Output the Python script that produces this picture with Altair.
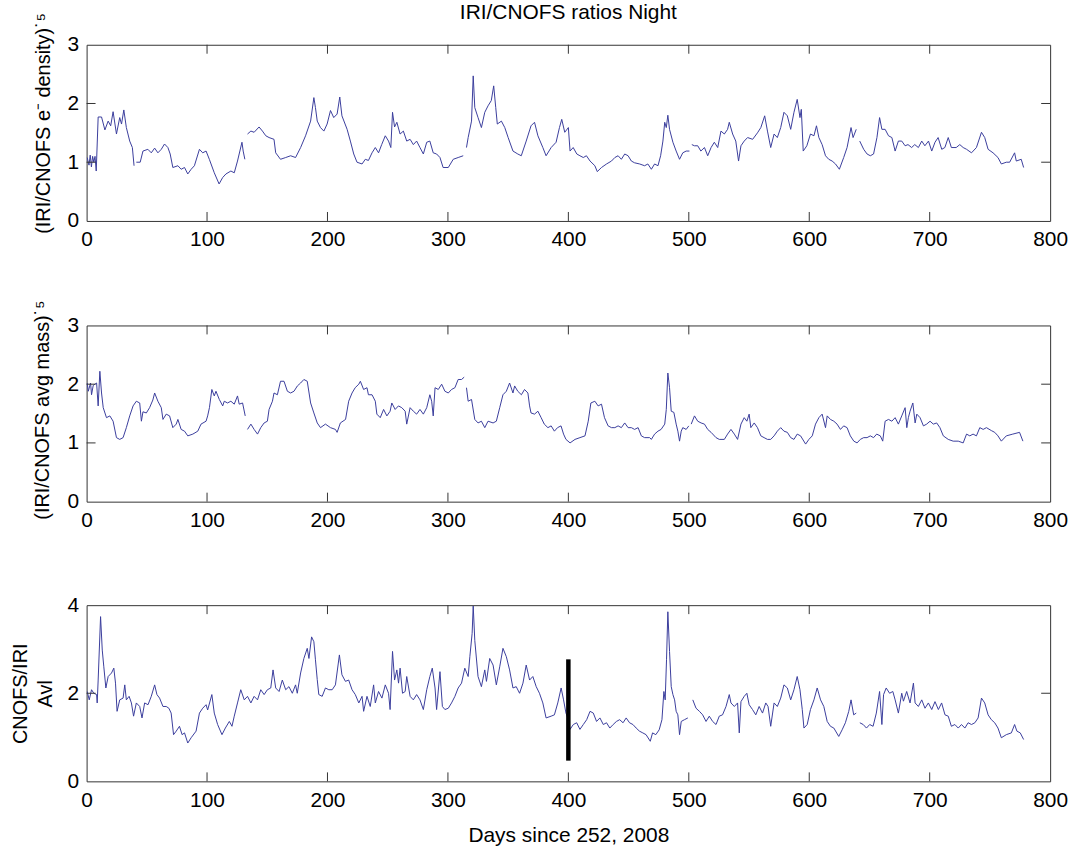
import altair as alt
import pandas as pd

FONT = "Liberation Sans"
LINE = "#3a3d9c"
W = 968
H = 177
XTICKS = [0, 100, 200, 300, 400, 500, 600, 700, 800]

# ---------------- data (None marks a gap in the record) ----------------
days1 = [0.5, 2, 3, 4, 5, 6, 7, 8, 9.6, 12.4, 15.2, 17.9, 20, 22, 24.8, 27.5, 29, 30.9, 33, 35.8, 38, 39.4, None,
         41.3, 44.5, 46.8, 50.9, 53.7, 56.5, 59.2, 62, 64.7, 67.5, 69.4, 71.6, 75.8, 78.5, 81.3, 84, 86.8, 89.5, 93.7,
         96.4, 99.2, 101.9, 106, 110, 113, 115.7, 119.8, 122.6, 125.3, 129, 130, 131.4, None,
         133.6, 136.4, 139.1, 143.2, 146, 148.8, 151.5, 155.6, 157, 161, 165.3, 169.4, 173.5, 177.7, 181.8, 186, 188.7,
         190, 191.5, 194.2, 197, 199.7, 202.5, 205.2, 208, 210.2, 212, 216.3, 219, 221.8, 224.5, 228.7, 231.4, 234, 237,
         239.7, 242.4, 245, 248, 250.7, 252.6, 254, 255.7, 257.6, 260.3, 263, 265.8, 268.6, 271.3, 274, 276.8, 279.6,
         282.4, 285, 287.8, 290.6, 293.4, 296, 300.3, 304.4, 308.5, 312.7, None,
         315.4, 316.8, 319.6, 321, 322.3, 325, 327.8, 330.6, 333.3, 336, 338, 339.7, 341, 344.4, 347.2, 350, 354, 358,
         360.9, 365, 369, 371.9, 374.7, 378.8, 381.5, 385.7, 389.8, 392.6, 394.5, 397, 400, 401.4, 404, 407, 409.6,
         412.4, 415, 418, 422, 424, 427.5, 431.7, 435.8, 438.6, 441.3, 444, 446.8, 449.6, 452.3, 455, 459.2, 463.3, 466,
         468.9, 471.6, 474.4, 476.6, 478.5, 480, 481.3, 482.6, 484, 486.8, 489.5, 492.3, 495, 497.8, 500.5, None,
         502.5, 504.7, 507.4, 510, 513, 515.7, 518.5, 521.2, 524, 526.7, 529.5, 532.2, 533.6, 536.4, 539, 541.3, 543.3,
         546, 548.8, 553, 557, 559.8, 563, 565.3, 568, 570.8, 573.5, 576.3, 579, 581.8, 584.6, 587.3, 590, 592.3, 593.4,
         595, 598, 601, 603.9, 606, 608, 610.7, 613.5, 616.2, 619, 621.8, 625, 628.6, 631.4, 634.7, 636.4, 639, None,
         641.9, 645.2, 648, 650.7, 653.4, 656.2, 658.4, 660.3, 663, 665.8, 668.6, 671.3, 674, 676.8, 679.6, 682, 685,
         687.6, 690.6, 693.4, 696, 699, 701.7, 704.4, 707, 710, 712.6, 715.4, 718, 722, 725, 727.8, 730.6, 734.7, 738.8,
         743, 745.7, 748.5, 752.6, 756.7, 759.5, 763.6, 766.4, 770.5, 771.9, 776, 778]
vals1 = [1.08, 0.95, 1.12, 0.92, 1.1, 1.0, 1.1, 0.85, 1.77, 1.77, 1.55, 1.70, 1.62, 1.86, 1.48, 1.76, 1.65, 1.89, 1.59,
         1.36, 1.25, 0.94, None,
         1.0, 1.0, 1.19, 1.22, 1.16, 1.24, 1.16, 1.22, 1.31, 1.25, 1.14, 0.91, 0.94, 0.88, 0.91, 0.80, 0.88, 0.94, 1.22,
         1.16, 1.19, 1.05, 0.82, 0.63, 0.74, 0.80, 0.85, 0.82, 1.02, 1.34, 1.19, 1.05, None,
         1.48, 1.53, 1.51, 1.60, 1.53, 1.45, 1.42, 1.39, 1.16, 1.05, 1.08, 1.11, 1.08, 1.25, 1.45, 1.70, 2.10,
         1.93, 1.70, 1.59, 1.53, 1.65, 1.88, 1.76, 1.82, 2.11, 1.79, 1.56, 1.36, 1.14, 1.0, 0.97, 1.05, 1.03, 1.16,
         1.25, 1.16, 1.30, 1.45, 1.36, 1.25, 1.85, 1.60, 1.68, 1.48, 1.53, 1.36, 1.39, 1.30, 1.36, 1.25, 1.14,
         1.34, 1.36, 1.16, 1.14, 1.08, 0.91, 0.91, 1.05, 1.08, 1.11, None,
         1.25, 1.42, 1.70, 2.47, 1.93, 1.76, 1.59, 1.85, 1.96, 2.05, 2.30, 1.93, 1.65, 1.70, 1.59, 1.42, 1.19, 1.14,
         1.11, 1.36, 1.62, 1.68, 1.45, 1.25, 1.11, 1.25, 1.34, 1.59, 1.73, 1.51, 1.59, 1.19, 1.25, 1.14, 1.11,
         1.08, 1.11, 1.02, 0.94, 0.84, 0.91, 0.97, 1.02, 1.08, 1.11, 1.05, 1.14, 1.11, 1.02, 0.99, 0.97, 0.94, 0.97,
         0.88, 0.97, 0.94, 1.11, 1.36, 1.68, 1.59, 1.80, 1.56, 1.34, 1.19, 1.05, 1.16, 1.19, 1.19, None,
         1.30, 1.28, 1.28, 1.19, 1.25, 1.11, 1.25, 1.34, 1.25, 1.53, 1.48, 1.56, 1.68, 1.48, 1.36, 1.02, 1.28,
         1.36, 1.42, 1.39, 1.50, 1.59, 1.79, 1.53, 1.25, 1.48, 1.42, 1.59, 1.85, 1.79, 1.56, 1.85, 2.07, 1.76, 1.90,
         1.19, 1.28, 1.48, 1.45, 1.62, 1.42, 1.30, 1.11, 1.05, 1.02, 0.97, 0.88, 1.08, 1.25, 1.59, 1.42, 1.56, None,
         1.36, 1.22, 1.14, 1.11, 1.14, 1.42, 1.76, 1.56, 1.56, 1.45, 1.42, 1.19, 1.36, 1.36, 1.28, 1.30, 1.25,
         1.30, 1.25, 1.36, 1.28, 1.36, 1.19, 1.34, 1.42, 1.22, 1.25, 1.42, 1.25, 1.25, 1.30, 1.25, 1.22, 1.16, 1.25,
         1.51, 1.42, 1.22, 1.16, 1.08, 0.97, 1.0, 1.0, 1.16, 1.02, 1.05, 0.91]

days2 = [0.5, 1.4, 3.3, 4.1, 5.5, 8.3, 9.6, 11, 12.4, 13.8, 16.5, 19.3, 22, 24.8, 27.5, 30.3, 33, 35.8, 38.6, 41.3,
         44.1, 45.5, 46.8, 49.6, 52.3, 55, 56.5, 59.2, 62, 63.4, 66.1, 68.9, 71.6, 74.4, 75.8, 78.5, 81.3, 84, 88.2,
         92.3, 95, 99.2, 100.5, 102, 104, 106, 107.4, 110.2, 113, 114.3, 117, 119.8, 122.6, 125.3, 126.7, 129.5, 131.7,
         None,
         133.6, 136.4, 139.1, 141.9, 144.6, 147.4, 150.1, 151.5, 154.3, 155.6, 158.4, 161, 163.9, 166.7, 169.4, 172.2,
         175, 177.7, 180.4, 183.2, 186, 188.7, 191.5, 194.2, 198.3, 202.5, 206.6, 208, 210.7, 215, 217.6, 220.4, 223,
         226, 227.3, 230, 232.8, 234, 237, 239.7, 241, 243.8, 246.6, 249.3, 252, 253.4, 256.2, 258.9, 261.7, 264.5,
         265.8, 268.6, 271.3, 274, 276.8, 279.6, 282.4, 285, 286.5, 287.8, 289.3, 292, 294.8, 297.5, 300.3, 303, 305.8,
         308.5, 311.3, 313.5, None,
         315.4, 316.8, 319.6, 322.3, 325, 327.8, 330.6, 333.3, 337.5, 340.2, 343, 345.7, 348.5, 351.2, 354, 355.4, 358,
         361, 363.6, 366.4, 367.8, 369, 371.9, 374.7, 377.4, 380, 383, 385.7, 388.4, 391, 393.9, 396, 398, 401.4, 405.5,
         409.6, 413.8, 416.5, 418.7, 422, 424.7, 427.5, 430, 433, 435.8, 438.6, 441.3, 444, 446.8, 449.6, 452.3, 455,
         457.9, 460.6, 463.3, 467.5, 468.9, 471.6, 474.4, 477, 480, 481.3, 482.6, 484, 485.4, 487.6, 489.5, 490.9,
         492.3, 493.7, 495, 497.8, 500, None,
         502, 504.7, 507.4, 510.2, 513, 515.7, 518.5, 522.6, 525.3, 529.5, 532.2, 535, 537.8, 540.5, 543.3, 546, 548.2,
         550.1, 551.5, 554.3, 557, 559.8, 562.5, 565.3, 568, 570.8, 573.5, 576.3, 579, 581.8, 584.6, 587.3, 590, 592.8,
         597, 599.7, 602.5, 605.2, 608, 610.7, 613.5, 614.9, 617.6, 620.4, 623.1, 625.9, 628.6, 631.4, 634.1, 637,
         639.7, 642.4, 645.2, 648, 650.7, 653.4, 656, 659, 661, 663, 665.8, 668.6, 671.3, 674, 676.8, 679.6, 681, 682.3,
         683.7, 686, 687.9, 689.3, 692, 694.8, 697.5, 700.3, 703, 705.8, 708.5, 711.3, 715.4, 719.5, 723.7, 727.8,
         730.6, 733.3, 736, 738.8, 741.6, 744.4, 747.1, 751.2, 754, 756.7, 759.5, 763.6, 769, 774.6, 777.4]
vals2 = [2.02, 1.88, 2.02, 1.82, 1.98, 2.02, 1.63, 2.22, 1.85, 1.60, 1.43, 1.46, 1.37, 1.09, 1.06, 1.09, 1.26, 1.46,
         1.63, 1.71, 1.68, 1.37, 1.53, 1.51, 1.60, 1.73, 1.85, 1.71, 1.60, 1.40, 1.49, 1.46, 1.26, 1.32, 1.40, 1.23,
         1.20, 1.12, 1.15, 1.20, 1.32, 1.37, 1.46, 1.60, 1.91, 1.80, 1.88, 1.74, 1.63, 1.71, 1.68, 1.71, 1.66, 1.80,
         1.66, 1.68, 1.46, None,
         1.23, 1.32, 1.23, 1.15, 1.26, 1.34, 1.37, 1.57, 1.71, 1.85, 1.82, 2.05, 2.05, 1.88, 1.85, 1.88, 1.97, 2.02,
         2.08, 2.05, 1.68, 1.51, 1.34, 1.26, 1.32, 1.26, 1.23, 1.18, 1.34, 1.40, 1.71, 1.85, 1.94, 2.0, 2.05, 1.91,
         1.94, 1.82, 1.82, 1.71, 1.49, 1.43, 1.57, 1.46, 1.54, 1.68, 1.57, 1.63, 1.60, 1.54, 1.32, 1.60, 1.54, 1.49,
         1.57, 1.49, 1.60, 1.82, 1.71, 1.46, 1.94, 1.91, 2.0, 1.88, 1.85, 1.91, 1.94, 2.08, 2.08, 2.12, None,
         1.94, 1.71, 1.74, 1.40, 1.34, 1.37, 1.26, 1.37, 1.34, 1.37, 1.60, 1.82, 1.88, 2.02, 1.85, 1.97, 1.88, 1.82,
         1.91, 1.85, 1.63, 1.51, 1.49, 1.54, 1.43, 1.32, 1.26, 1.29, 1.20, 1.26, 1.29, 1.15, 1.06, 1.0, 1.06, 1.09,
         1.12, 1.37, 1.68, 1.71, 1.63, 1.66, 1.43, 1.29, 1.26, 1.26, 1.29, 1.26, 1.34, 1.26, 1.26, 1.23, 1.26, 1.12,
         1.09, 1.09, 1.06, 1.15, 1.20, 1.23, 1.32, 1.57, 2.19, 1.94, 1.54, 1.52, 1.32, 1.20, 1.03, 1.20, 1.26, 1.23,
         1.29, None,
         1.32, 1.46, 1.37, 1.34, 1.32, 1.23, 1.18, 1.09, 1.06, 1.06, 1.15, 1.23, 1.15, 1.06, 1.32, 1.43, 1.37, 1.49,
         1.26, 1.34, 1.26, 1.12, 1.09, 1.06, 1.06, 1.12, 1.20, 1.26, 1.20, 1.18, 1.09, 1.06, 1.15, 1.12, 0.98, 1.06,
         1.12, 1.32, 1.43, 1.49, 1.26, 1.46, 1.40, 1.37, 1.32, 1.23, 1.29, 1.26, 1.12, 1.03, 1.0, 1.06, 1.09, 1.09,
         1.12, 1.09, 1.15, 1.12, 1.03, 1.37, 1.40, 1.37, 1.43, 1.32, 1.46, 1.60, 1.26, 1.43, 1.54, 1.68, 1.34, 1.49,
         1.43, 1.29, 1.32, 1.37, 1.32, 1.34, 1.26, 1.12, 1.06, 1.03, 1.03, 1.0, 1.15, 1.12, 1.15, 1.12, 1.26, 1.23,
         1.26, 1.21, 1.18, 1.12, 1.03, 1.12, 1.15, 1.18, 1.03]

days3 = [0.5, 2.2, 4.1, 6, 8.3, 8.8, 9.6, 11.6, 13, 14.3, 16, 17.9, 20.7, 22.6, 24, 25.3, 27.5, 30.3, 31.7, 33, 35.3,
         37.2, 39, 41.3, 44.1, 46, 48.2, 51, 53.7, 56.5, 58.4, 60.6, 63.4, 66.1, 68.3, 70.2, 72.2, 74.4, 77.1, 79.3,
         81.3, 84, 86.8, 90.9, 93.7, 96.4, 99.2, 100.5, 104, 106, 108.8, 112.4, 115.2, 118.5, 120.7, 122.6, 125.3, 128,
         130.9, 133.6, 136.4, 139.1, 141.9, 144.6, 147.4, 150.1, 152.9, 154.8, 157, 159.8, 162.5, 165.3, 168, 170.8,
         173.5, 174.9, 177.7, 180.4, 183.2, 184.6, 186.8, 188.7, 190, 191.5, 192.8, 195.6, 198.3, 201.1, 203.9, 206.6,
         209.9, 212, 214.9, 217.6, 220.4, 223.1, 226, 228.7, 230, 232.8, 235.5, 238.3, 239.7, 242.4, 245.2, 248, 250.7,
         252, 254, 255.7, 257.6, 259, 260.3, 262.3, 264.5, 265.8, 268.6, 271.3, 274, 276.8, 279.6, 282.4, 285, 287,
         289.3, 290.6, 293.4, 295.4, 297.5, 300.3, 303, 305.8, 308.5, 311.3, 314, 316.8, 318.2, 320.1, 321, 322.3, 325,
         327.8, 330.6, 332, 334.7, 337.5, 340.2, 343, 345.7, 348.5, 351.2, 354, 356.7, 359.5, 362.3, 365, 367.8, 370.5,
         373.3, 376, 378.8, 381.5, 385.7, 388.4, 391.2, 394, 396, 398, 400, 401.4, 404.1, 406.9, 409.6, 412.4, 415.2,
         418, 420.7, 423.4, 426.2, 429, 431.7, 434.4, 437.2, 439.9, 442.6, 445.4, 448, 450.8, 453.6, 456.3, 459, 461.8,
         464.5, 468, 469.9, 472.6, 475.4, 477.7, 479.3, 480.4, 481.5, 482.6, 484, 485.4, 486.8, 488.2, 489.5, 490.9,
         492.3, 493.7, 496.4, 499.2, None,
         503.3, 506, 508.8, 511.5, 514.3, 517, 519.8, 522.6, 525.3, 528, 530.9, 533.6, 535, 537.8, 540.5, 541.9, 543.3,
         546, 548.2, 550.1, 552.9, 555.6, 558.4, 561.2, 563.9, 565.8, 568, 570.8, 573.5, 576.3, 579, 581.8, 584.6,
         587.3, 590, 592.3, 594.2, 595.6, 598.3, 601, 603.9, 606.6, 609.4, 612.1, 614.9, 617.6, 620.4, 624.5, 627.3,
         630, 632.8, 634.7, 636.9, 639, None,
         642, 644.8, 647.5, 650.2, 653, 655.7, 658.4, 660.3, 661.7, 663.9, 666.7, 669.4, 671.3, 674, 676.8, 678.2,
         680.9, 683.7, 686.5, 687.9, 690.6, 693.4, 696.1, 698.9, 701.7, 704.4, 707.2, 709.9, 712.7, 715.4, 718, 720.9,
         723.7, 726.4, 729.2, 731.9, 734.7, 737.5, 740.2, 743, 745.7, 748.5, 751.2, 754, 756.7, 759.5, 763.6, 767.8,
         770.5, 772.4, 775.2, 778]
vals3 = [2.04, 1.85, 2.08, 2.0, 1.97, 1.78, 2.30, 3.74, 2.98, 2.60, 2.12, 2.38, 2.46, 2.57, 2.23, 1.59, 1.85, 1.89,
         2.19, 1.85, 1.93, 1.78, 1.48, 1.78, 1.70, 1.44, 1.78, 1.74, 1.93, 2.19, 1.97, 1.89, 1.70, 1.70, 1.66, 1.55,
         1.06, 1.14, 1.25, 1.06, 1.10, 0.87, 0.99, 1.14, 1.55, 1.66, 1.74, 1.62, 1.97, 1.55, 1.29, 1.06, 1.21, 1.36,
         1.25, 1.48, 1.78, 2.08, 1.85, 1.93, 1.78, 1.93, 1.85, 2.08, 1.97, 2.08, 2.12, 2.53, 2.12, 2.04, 2.30, 2.08,
         2.15, 2.0, 2.19, 2.0, 2.46, 2.79, 3.02, 2.79, 3.28, 3.17, 2.76, 2.31, 1.97, 1.93, 2.12, 2.08, 2.08, 2.19,
         2.87, 2.42, 2.27, 2.30, 2.08, 1.97, 1.78, 1.93, 1.59, 1.93, 1.70, 2.19, 1.78, 2.04, 1.89, 2.19, 2.0,
         1.63, 2.95, 2.30, 2.53, 2.23, 2.57, 2.0, 2.04, 2.38, 1.93, 1.85, 1.97, 1.85, 1.63, 2.08, 2.38, 2.57,
         2.12, 1.63, 2.49, 1.70, 1.63, 1.66, 1.78, 1.93, 2.12, 2.23, 2.57, 2.38, 2.83, 3.36, 3.98, 3.20, 2.38,
         2.15, 2.53, 2.27, 2.79, 2.64, 2.19, 2.60, 3.02, 2.83, 2.53, 2.12, 2.15, 2.0, 2.23, 2.64, 2.30, 2.38,
         2.15, 2.0, 1.78, 1.44, 1.48, 1.51, 1.78, 2.12, 1.85, 1.55, 1.40, 1.18, 1.29, 1.33, 1.18, 1.29, 1.40,
         1.59, 1.55, 1.36, 1.44, 1.29, 1.33, 1.21, 1.29, 1.36, 1.40, 1.33, 1.44, 1.33, 1.29, 1.21, 1.14, 1.10,
         1.06, 0.91, 1.10, 1.06, 1.17, 1.40, 2.04, 1.85, 2.76, 3.85, 2.95, 2.15, 1.97, 1.85, 1.59, 1.51,
         1.06, 1.36, 1.40, 1.44, None,
         1.85, 1.66, 1.59, 1.51, 1.36, 1.48, 1.36, 1.29, 1.48, 1.51, 1.70, 1.97, 1.78, 1.70, 1.78, 1.10, 1.81,
         1.93, 2.0, 1.74, 1.63, 1.51, 1.70, 1.55, 1.78, 1.70, 1.25, 1.78, 1.70, 1.89, 2.19, 2.12, 1.85,
         2.08, 2.38, 2.08, 1.63, 1.21, 1.29, 1.63, 1.85, 2.12, 1.85, 1.70, 1.36, 1.25, 1.21, 1.02, 1.17,
         1.33, 1.59, 1.85, 1.51, 1.55, None,
         1.33, 1.29, 1.21, 1.29, 1.25, 1.55, 2.04, 1.29, 1.97, 2.12, 2.0, 2.04, 1.85, 1.55, 2.0, 1.82,
         2.04, 1.78, 2.23, 1.78, 1.70, 1.85, 1.66, 1.78, 1.63, 1.81, 1.63, 1.78, 1.51, 1.48, 1.25, 1.29,
         1.21, 1.29, 1.21, 1.33, 1.29, 1.33, 1.44, 1.89, 1.78, 1.51, 1.40, 1.33, 1.21, 0.99, 1.06, 1.10,
         1.29, 1.14, 1.10, 0.95]

marker_day = [400]
marker_lo = [0.47]
marker_hi = [2.77]


def build(days, vals):
    rows, seg = [], 0
    for d, v in zip(days, vals):
        if v is None or d is None:
            seg += 1
            continue
        rows.append({"day": d, "val": v, "seg": seg})
    return pd.DataFrame(rows)


def panel(days, vals, ymax, yticks, ytitle, title_x, title_y, xtitle=None, extra=None, top_title=None):
    df = build(days, vals)
    xs = alt.Scale(domain=[0, 800], nice=False, zero=False)
    ys = alt.Scale(domain=[0, ymax], nice=False, zero=False)
    xaxis_kw = dict(values=XTICKS, format="d", ticks=False, domain=False, grid=False,
                    labelFontSize=21, labelFont=FONT, labelColor="black", labelPadding=8,
                    labelFlush=False, labelOverlap=False)
    if xtitle is not None:
        xaxis_kw.update(title=xtitle, titleFontSize=21, titleFont=FONT, titleFontWeight="normal",
                        titleColor="black", titlePadding=14)
    xaxis = alt.Axis(**xaxis_kw)
    yaxis = alt.Axis(values=yticks, format="d", ticks=False, domain=False, grid=False,
                     labelFontSize=21, labelFont=FONT, labelColor="black", labelPadding=8,
                     labelOverlap=False, title=ytitle, titleFontSize=20, titleFont=FONT,
                     titleFontWeight="normal", titleColor="black", titleX=title_x, titleY=title_y,
                     titleBaseline="middle", titleLineHeight=25, minExtent=80)
    xenc = alt.X("day:Q", scale=xs, axis=xaxis, title=xtitle)
    yenc = alt.Y("val:Q", scale=ys, axis=yaxis)

    line = alt.Chart(df).mark_line(color=LINE, strokeWidth=1, clip=True).encode(
        x=xenc, y=yenc, detail="seg:N")

    xt = pd.DataFrame({"day": XTICKS[1:-1]})
    yt = pd.DataFrame({"val": [v for v in yticks if 0 < v < ymax]})
    tick_bot = alt.Chart(xt).mark_rule(color="#333", strokeWidth=1).encode(
        x=xenc, y=alt.value(H), y2=alt.value(H - 9))
    tick_top = alt.Chart(xt).mark_rule(color="#333", strokeWidth=1).encode(
        x=xenc, y=alt.value(0), y2=alt.value(9))
    tick_l = alt.Chart(yt).mark_rule(color="#333", strokeWidth=1).encode(
        y=yenc, x=alt.value(0), x2=alt.value(9))
    tick_r = alt.Chart(yt).mark_rule(color="#333", strokeWidth=1).encode(
        y=yenc, x=alt.value(W - 9), x2=alt.value(W))
    layers = [line, tick_bot, tick_top, tick_l, tick_r]
    if extra is not None:
        mk = pd.DataFrame({"day": marker_day, "val": marker_lo, "val2": marker_hi})
        layers.append(alt.Chart(mk).mark_rule(color="black", strokeWidth=4.5).encode(
            x=xenc, y=yenc, y2="val2:Q"))
    ch = alt.layer(*layers).properties(width=W, height=H)
    if top_title is not None:
        ch = ch.properties(title=alt.TitleParams(top_title, fontSize=21, font=FONT, fontWeight="normal",
                                                 color="black", anchor="middle", offset=-11))
    return ch


p1 = panel(days1, vals1, 3, [0, 1, 2, 3], "(IRI/CNOFS e\u207b density)\u02d9\u2075", -43, H / 2 - 10,
           top_title="IRI/CNOFS ratios Night")
p2 = panel(days2, vals2, 3, [0, 1, 2, 3], "(IRI/CNOFS avg mass)\u02d9\u2075", -44, H / 2 - 4)
p3 = panel(days3, vals3, 4, [0, 2, 4], ["CNOFS/IRI", "Avl"], -66, H / 2,
           xtitle="Days since 252, 2008", extra=True)

top_pair = alt.vconcat(p1, p2, spacing=48)
chart = alt.vconcat(top_pair, p3, spacing=62).properties(
    padding={"left": 6, "top": 0, "right": 10, "bottom": 2},
    background="white",
).configure_view(stroke="#333", strokeWidth=1)

chart.save("out.html", embed_options={"renderer": "svg", "actions": False})
